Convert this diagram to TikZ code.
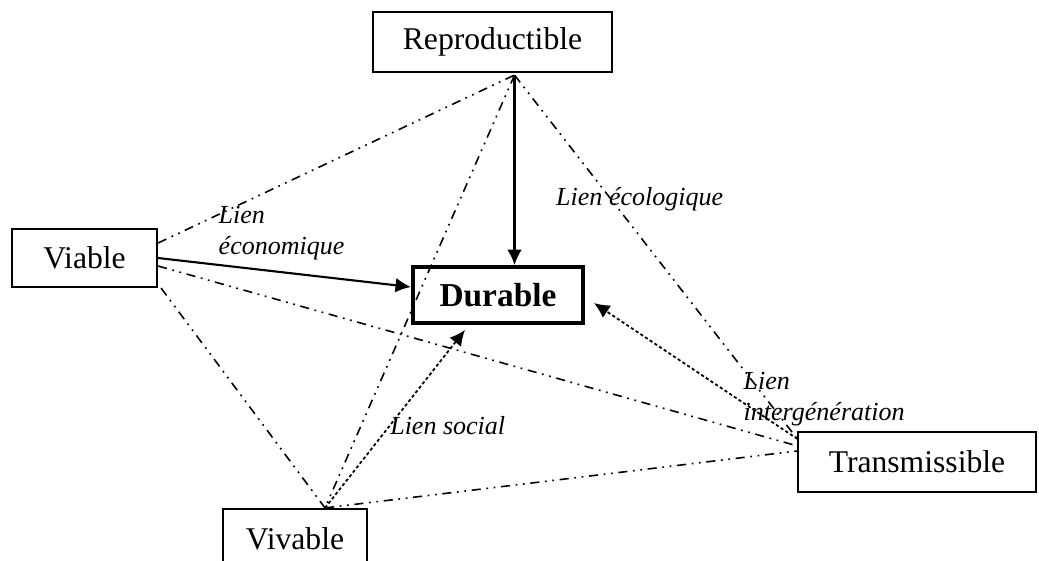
\documentclass[tikz,border=0pt]{standalone}
\usepackage{fontspec}
\setmainfont{Liberation Serif}
\usetikzlibrary{arrows,arrows.meta}
\tikzset{
    block/.style = {draw, rectangle, line width=0.6pt, inner sep=0pt,
        minimum height=0.6cm, font=\fontsize{9}{11}\selectfont},
    mainblock/.style = {block, line width=1.1pt,
        font=\fontsize{9.5}{11}\selectfont\bfseries},
    lien/.style = {line width=0.45pt,
        dash pattern=on 2.6pt off 1.6pt on 0.5pt off 1.6pt on 0.5pt off 1.6pt},
    lienfin/.style = {line width=0.5pt, dash pattern=on 0.9pt off 0.7pt},
    lbl/.style = {font=\fontsize{7.4}{8.8}\selectfont\itshape, inner sep=0pt, align=left}
}

\begin{document}
\begin{tikzpicture}[x=0.01cm, y=-0.01cm, >={Latex[length=4.4pt,width=4.2pt]}]
            \useasboundingbox (0,0) rectangle (1039,560);
            \node [block, minimum width=2.39cm] (rep) at (492.5,42) {Reproductible};
            \node [block, minimum width=1.45cm, minimum height=0.58cm] (via) at (84.5,258) {Viable};
            \node [mainblock, minimum width=1.70cm, minimum height=0.56cm] (dur) at (498,295) {Durable};
            \node [block, minimum width=2.37cm] (tra) at (917,462) {Transmissible};
            \node [block, minimum width=1.44cm] (viv) at (295,539) {Vivable};
            \coordinate (rp) at ([xshift=2.2mm,yshift=-0.2mm]rep.south);
            \coordinate (vp) at ([xshift=3mm]viv.north);
            % liens
            \draw[lien] ([yshift=1.5mm]via.east) -- (rp);
            \draw[lien] (rp) -- (vp);
            \draw[lien] (rp) -- node[lbl, pos=.34, xshift=2.9mm] (leco) {Lien écologique} ([yshift=-0.8mm]tra.north west);
            \draw[lien] ([yshift=-0.8mm]via.east) -- ([yshift=-1.5mm]tra.north west);
            \draw[lien] ([xshift=0.3mm]via.south east) -- (vp);
            \draw[lien] (vp) -- ([yshift=-2mm]tra.north west);
            \draw[->, line width=0.6pt] (rp) -- (rp |- dur.north);
            \draw[->, line width=0.6pt] (via.east) -- ([yshift=0.8mm]dur.west);
            \draw[lienfin, ->] (vp) -- node[lbl, pos=.46, anchor=west] (lsoc) {Lien social} ([xshift=-3.3mm,yshift=-0.5mm]dur.south);
            \draw[lienfin, ->] ([yshift=-0.8mm]tra.north west) -- ([xshift=0.9mm,yshift=-0.8mm]dur.east);
            \node [lbl, anchor=west] (lecon) at (218,233) {Lien\\économique};
            \node [lbl, anchor=west] (linter) at (743,399) {Lien\\intergénération};
        \end{tikzpicture}
\end{document}
